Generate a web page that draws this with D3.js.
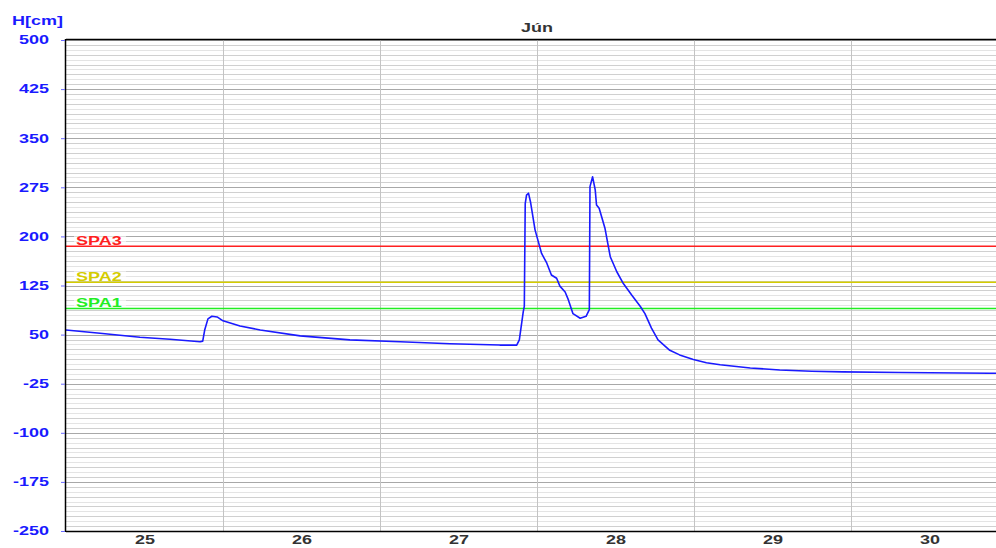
<!DOCTYPE html>
<html>
<head>
<meta charset="utf-8">
<script src="https://cdn.jsdelivr.net/npm/d3@7"></script>
<style>
  body { margin: 0; background: #fff; }
  svg { display: block; font-family: "Liberation Sans", Arial, sans-serif; }
</style>
</head>
<body>
<div id="chart"></div>
<script>
// hours from 25 Jun 00:00 and water level H [cm]
var hours = [0, 5.2, 11.3, 15.9, 20.5, 20.9, 21.2, 21.7, 22.3, 23.1, 24.0, 26.6, 29.7, 35.8, 43.4, 51.1, 58.7, 66.3, 68.9,
  69.3, 69.9, 70.06, 70.2, 70.4, 70.7, 71.0, 71.7, 72.2, 72.7, 73.5, 74.2, 75.0, 75.5, 76.3, 76.8, 77.5, 78.6, 79.5, 80.0,
  80.1, 80.5, 80.9, 81.1, 81.5, 82.4, 83.2, 84.2, 85.2, 86.5, 87.8, 88.5, 89.5, 90.5, 92.3, 93.8, 95.9, 97.9, 100.0,
  104.6, 109.1, 114.0, 118.8, 127.5, 141.2, 142.2];
var levels = [57, 52, 46, 43, 39, 40, 57, 74, 78, 77, 71, 63, 57, 48, 42, 39, 36, 34, 34,
  42, 85, 93, 250, 263, 266, 253, 210, 192, 174, 159, 141, 136, 124, 115, 103, 82, 75, 78, 88,
  276, 291, 271, 248, 243, 212, 169, 146, 128, 110, 93, 82, 60, 42, 26, 19, 12, 7, 4,
  -1, -4, -6, -7, -8, -9, -9];

var dayLabels = ["25", "26", "27", "28", "29", "30"];
var yTicks = [500, 425, 350, 275, 200, 125, 50, -25, -100, -175, -250];

var limitNames = ["SPA3", "SPA2", "SPA1"];
var limitValues = [185, 130, 90];
var limitColors = ["#ff2020", "#d4cc00", "#22ee22"];

var width = 996, height = 548;
var margin = { top: 40, left: 66, bottom: 17 };
var dayWidth = 157;
var stretch = 1.5;  // labels in the original are drawn wide

var svg = d3.select("#chart").append("svg")
  .attr("width", width)
  .attr("height", height);

var x = d3.scaleLinear()
  .domain([0, 144])
  .range([margin.left, margin.left + 6 * dayWidth]);

var y = d3.scaleLinear()
  .domain([-250, 500])
  .range([height - margin.bottom, margin.top]);

svg.append("clipPath").attr("id", "plot")
  .append("rect")
  .attr("x", margin.left).attr("y", margin.top)
  .attr("width", width - margin.left).attr("height", y(-250) - margin.top);

// minor horizontal grid every 7.5 cm
var minor = d3.range(0, 101).map(function(i) { return -250 + i * 7.5; });
svg.append("g").selectAll("line")
  .data(minor)
  .enter().append("line")
  .attr("x1", margin.left).attr("x2", width)
  .attr("y1", function(d) { return Math.round(y(d)) + 0.5; })
  .attr("y2", function(d) { return Math.round(y(d)) + 0.5; })
  .attr("stroke", function(d, i) {
    if (i % 10 == 0) return "#a8a8a8";
    return i % 2 ? "#d0d0d0" : "#e4e4e4";
  });

// day boundaries
svg.append("g").selectAll("line")
  .data(d3.range(1, 6))
  .enter().append("line")
  .attr("x1", function(d) { return Math.round(x(d * 24)) + 0.5; })
  .attr("x2", function(d) { return Math.round(x(d * 24)) + 0.5; })
  .attr("y1", margin.top).attr("y2", y(-250))
  .attr("stroke", "#c4c4c4");

// limit lines
var limits = svg.append("g").selectAll("g")
  .data(limitNames)
  .enter().append("g");

limits.append("line")
  .attr("x1", margin.left).attr("x2", width)
  .attr("y1", function(d, i) { return y(limitValues[i]); })
  .attr("y2", function(d, i) { return y(limitValues[i]); })
  .attr("stroke", function(d, i) { return limitColors[i]; })
  .attr("stroke-width", 1.5);

limits.append("rect")
  .attr("x", 74)
  .attr("y", function(d, i) { return y(limitValues[i]) - 11; })
  .attr("width", 52).attr("height", 9)
  .attr("fill", "#fff").attr("opacity", 0.6);

limits.append("text")
  .attr("transform", function(d, i) {
    return "translate(76," + (y(limitValues[i]) - 1) + ") scale(" + stretch + ",1)";
  })
  .attr("font-size", 12)
  .attr("font-weight", "bold")
  .attr("fill", function(d, i) { return limitColors[i]; })
  .text(function(d) { return d; });

// water level curve
var line = d3.line()
  .x(function(d, i) { return x(hours[i]); })
  .y(function(d) { return y(d); });

svg.append("path")
  .datum(levels)
  .attr("clip-path", "url(#plot)")
  .attr("d", line)
  .attr("fill", "none")
  .attr("stroke", "#1a1aff")
  .attr("stroke-width", 1.6)
  .attr("stroke-linejoin", "round");

// frame
svg.append("line")
  .attr("x1", margin.left - 0.5).attr("x2", margin.left - 0.5)
  .attr("y1", margin.top - 1).attr("y2", y(-250) + 1)
  .attr("stroke", "#000").attr("stroke-width", 1.5);
svg.append("line")
  .attr("x1", margin.left).attr("x2", width)
  .attr("y1", margin.top - 0.5).attr("y2", margin.top - 0.5)
  .attr("stroke", "#000").attr("stroke-width", 1.5);
svg.append("line")
  .attr("x1", margin.left).attr("x2", width)
  .attr("y1", y(-250) + 0.5).attr("y2", y(-250) + 0.5)
  .attr("stroke", "#000").attr("stroke-width", 1.5);

// y axis
var yAxis = d3.axisLeft(y)
  .tickValues(yTicks)
  .tickFormat(function(d) { return String(d); })
  .tickSize(4)
  .tickPadding(12);

var yg = svg.append("g")
  .attr("transform", "translate(" + (margin.left - 1) + ",0)")
  .call(yAxis);
yg.select(".domain").remove();
yg.selectAll(".tick line").attr("stroke", "#6a6aff");
yg.selectAll(".tick text")
  .attr("x", -16 / stretch)
  .attr("transform", "scale(" + stretch + ",1)")
  .attr("fill", "#1a1aff")
  .attr("font-size", 12)
  .attr("font-weight", "bold")
  .attr("font-family", "Liberation Sans, Arial, sans-serif");

// day labels at noon
var xAxis = d3.axisBottom(x)
  .tickValues(dayLabels.map(function(d, i) { return i * 24 + 12; }))
  .tickFormat(function(d, i) { return dayLabels[i]; })
  .tickSize(0)
  .tickPadding(4);

var xg = svg.append("g")
  .attr("transform", "translate(0," + y(-250) + ")")
  .call(xAxis);
xg.select(".domain").remove();
xg.selectAll(".tick text")
  .attr("transform", "scale(" + stretch + ",1)")
  .attr("fill", "#333")
  .attr("font-size", 12)
  .attr("font-weight", "bold")
  .attr("font-family", "Liberation Sans, Arial, sans-serif");

svg.append("text")
  .attr("transform", "translate(12,25) scale(" + stretch + ",1)")
  .attr("font-size", 12)
  .attr("font-weight", "bold")
  .attr("fill", "#1a1aff")
  .text("H[cm]");

svg.append("text")
  .attr("transform", "translate(537,32) scale(" + stretch + ",1)")
  .attr("text-anchor", "middle")
  .attr("font-size", 12)
  .attr("font-weight", "bold")
  .attr("fill", "#333")
  .text("Jún");
</script>
</body>
</html>
